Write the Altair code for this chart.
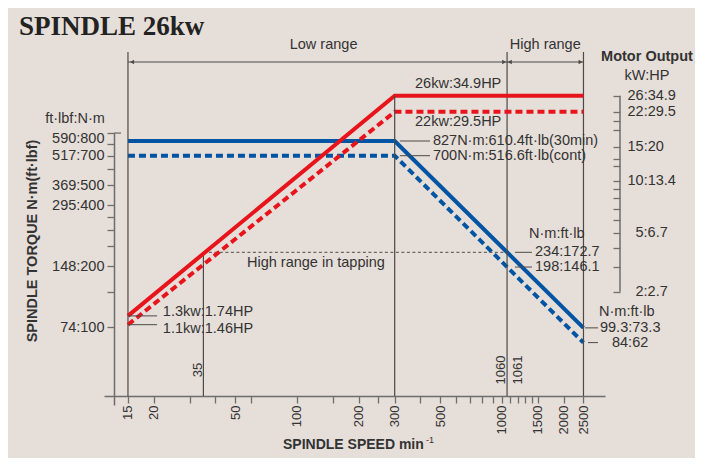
import altair as alt
import pandas as pd

# ---------------- data ----------------
speed = [15, 300, 2500]
torque_30min = [827, 827, 99.3]
torque_cont = [700, 700, 84]
power_30min = [1.3, 26, 26]
power_cont = [1.1, 22, 22]

speed_labeled = [15, 20, 50, 100, 200, 300, 500, 1000, 1500, 2000, 2500]
speed_minor = [30, 40, 60, 150, 250, 400, 600, 700, 800, 900, 1100, 1200, 1300, 1400]
torque_labeled = [800, 700, 500, 400, 200, 100]
torque_labels = ["590:800", "517:700", "369:500", "295:400", "148:200", "74:100"]
torque_minor = [905, 600, 350, 300, 250, 150]
power_labeled = [26, 22, 15, 10, 5, 2]
power_labels = ["26:34.9", "22:29.5", "15:20", "10:13.4", "5:6.7", "2:2.7"]
power_minor = [20, 18, 13, 12, 9, 8, 7, 6, 4, 3]

range_bounds = [15, 1060, 2500]
tap_speeds = [35, 1060]
tap_torque = 234
tap_cont_torque = 198

# ---------------- style ----------------
BLUE = "#0054a4"
RED = "#e8141c"
INK = "#333333"
LINE = "#4a4a4a"
AXC = "#6e6e6e"
BG = "#e6ded8"
FONT = "Liberation Sans"
FS = 14.5


def label_expr(vals, labels):
    s = "''"
    for v, l in reversed(list(zip(vals, labels))):
        s = f"datum.value == {v} ? '{l}' : ({s})"
    return s


xscale = alt.Scale(type="log", domain=[11.46, 3184], nice=False)
tscale = alt.Scale(type="log", domain=[41.4, 905.6], range=[385, 113], nice=False)
pscale = alt.Scale(type="pow", exponent=0.2, domain=[1, 30], range=[309.6, 61.65],
                   nice=False, zero=False)

xaxis = alt.Axis(values=speed_labeled + speed_minor,
                 labelExpr=label_expr(speed_labeled, [str(v) for v in speed_labeled]),
                 labelAngle=270, labelAlign="right", labelBaseline="middle",
                 tickSize=7, labelPadding=2, labelFontSize=13, labelFont=FONT,
                 labelColor=INK, domainColor=AXC, domainWidth=1.6, tickColor=AXC,
                 tickWidth=1.3, grid=False, title=None, labelOverlap=False,
                 labelFlush=False)

taxis = alt.Axis(orient="left", offset=-10, values=torque_labeled + torque_minor,
                 labelExpr=label_expr(torque_labeled, torque_labels),
                 tickSize=7, labelPadding=3, labelFontSize=FS, labelFont=FONT,
                 labelColor=INK, domainColor=AXC, domainWidth=1.5, tickColor=AXC,
                 tickWidth=1.3, grid=False, title=None, labelOverlap=False,
                 labelFlush=False,
                 labelOffset={"condition": {"test": "datum.value == 800", "value": -5}, "value": 0})

paxis = alt.Axis(orient="right", offset=8, values=power_labeled + power_minor,
                 labelExpr=label_expr(power_labeled, power_labels),
                 tickSize=7, labelFontSize=FS, labelFont=FONT, labelColor=INK,
                 domain=False, tickColor=AXC, tickWidth=1.3, grid=False, title=None,
                 labelOverlap=False, labelFlush=False,
                 labelPadding={"condition": {"test": "datum.value < 10", "value": 15}, "value": 7})

X = alt.X("S:Q", scale=xscale, axis=xaxis)
YT = alt.Y("T:Q", scale=tscale, axis=taxis)
YP = alt.Y("P:Q", scale=pscale, axis=paxis)


def txt(**kw):
    base = dict(font=FONT, fontSize=FS, color=INK)
    base.update(kw)
    return base


# ---------------- torque group ----------------
torque_layers = []

torque_layers.append(
    alt.Chart(pd.DataFrame({"S": speed, "T": torque_30min}))
    .mark_line(color=BLUE, strokeWidth=4, strokeCap="butt")
    .encode(x=X, y=YT))
torque_layers.append(
    alt.Chart(pd.DataFrame({"S": speed, "T": torque_cont}))
    .mark_line(color=BLUE, strokeWidth=4, strokeDash=[7, 4], strokeCap="butt")
    .encode(x=X, y=YT))

# vertical frame lines
torque_layers.append(
    alt.Chart(pd.DataFrame({"S": range_bounds}))
    .mark_rule(color=LINE, strokeWidth=1.2)
    .encode(x=X, y=alt.value(32), y2=alt.value(376)))

# tapping lines
torque_layers.append(
    alt.Chart(pd.DataFrame({"S": [tap_speeds[0]], "T": [tap_torque]}))
    .mark_rule(color=LINE, strokeWidth=1.2)
    .encode(x=X, y=YT, y2=alt.value(376)))
torque_layers.append(
    alt.Chart(pd.DataFrame({"S": [tap_speeds[0]], "S2": [tap_speeds[1]], "T": [tap_torque]}))
    .mark_rule(color=LINE, strokeWidth=1, strokeDash=[3, 2.5])
    .encode(x=X, x2="S2:Q", y=YT))

# leaders (torque)
leaders_t = pd.DataFrame({
    "S": [318, 318, 1158, 1158, 2544, 2631],
    "S2": [446, 446, 1402, 1402, 2943, 2943],
    "T": [827, 700, tap_torque, tap_cont_torque, 99.3, 84],
})
torque_layers.append(
    alt.Chart(leaders_t).mark_rule(color=LINE, strokeWidth=1)
    .encode(x=X, x2="S2:Q", y=YT))

# top cap of torque axis
torque_layers.append(
    alt.Chart(pd.DataFrame({"T": [905]})).mark_rule(color=AXC, strokeWidth=1.3)
    .encode(x=alt.value(10), x2=alt.value(17), y=YT))

# torque texts
texts_t = pd.DataFrame({
    "S": [461, 461, 1356, 1451, 1451, 2977, 3010, 3444, 57.1],
    "T": [827, 700, 287, tap_torque, tap_cont_torque, 119, 99.3, 84, 207.3],
    "label": ["827N·m:610.4ft·lb(30min)", "700N·m:516.6ft·lb(cont)", "N·m:ft·lb",
              "234:172.7", "198:146.1", "N·m:ft·lb", "99.3:73.3", "84:62",
              "High range in tapping"],
})
torque_layers.append(
    alt.Chart(texts_t).mark_text(**txt(align="left", baseline="middle"))
    .encode(x=X, y=YT, text="label:N"))

# rotated speed labels
torque_layers.append(
    alt.Chart(pd.DataFrame({"S": [34.3, 1035], "label": ["35", "1060"]}))
    .mark_text(**txt(fontSize=13, angle=270, align="center", baseline="alphabetic"))
    .encode(x=X, y=alt.value(350), text="label:N"))
torque_layers.append(
    alt.Chart(pd.DataFrame({"S": [1120], "label": ["1061"]}))
    .mark_text(**txt(fontSize=13, angle=270, align="center", baseline="top"))
    .encode(x=X, y=alt.value(350), text="label:N"))

# range arrows
torque_layers.append(
    alt.Chart(pd.DataFrame({"S": [15, 1060], "S2": [1060, 2500]}))
    .mark_rule(color=LINE, strokeWidth=1.1)
    .encode(x=X, x2="S2:Q", y=alt.value(42)))
torque_layers.append(
    alt.Chart(pd.DataFrame({"S": [15.7, 1093]}))
    .mark_point(shape="triangle-left", filled=True, size=22, color=LINE, opacity=1)
    .encode(x=X, y=alt.value(42)))
torque_layers.append(
    alt.Chart(pd.DataFrame({"S": [1026, 2421]}))
    .mark_point(shape="triangle-right", filled=True, size=22, color=LINE, opacity=1)
    .encode(x=X, y=alt.value(42)))
torque_layers.append(
    alt.Chart(pd.DataFrame({"S": [135, 1628], "label": ["Low range", "High range"]}))
    .mark_text(**txt(align="center", baseline="middle"))
    .encode(x=X, y=alt.value(25), text="label:N"))

# fixed texts
def fixed(label, x, y, **kw):
    return (alt.Chart(pd.DataFrame({"label": [label]}))
            .mark_text(**txt(**kw))
            .encode(x=alt.value(x), y=alt.value(y), text="label:N"))

torque_layers.append(fixed("SPINDLE 26kw", -85, 15, font="Liberation Serif", fontSize=27,
                           fontWeight="bold", color="#222222", align="left",
                           baseline="alphabetic"))
torque_layers.append(fixed("ft·lbf:N·m", -29, 99, align="center", baseline="middle"))
torque_layers.append(fixed("SPINDLE TORQUE N·m(ft·lbf)", -71, 221, angle=270,
                           fontWeight="bold", align="center", baseline="middle"))
torque_layers.append(fixed("SPINDLE SPEED min", 179, 429, fontSize=14, fontWeight="bold",
                           align="left", baseline="alphabetic"))
torque_layers.append(fixed("-1", 322, 423, fontSize=9, align="left", baseline="alphabetic"))
torque_layers.append(fixed("Motor Output", 543, 37, fontWeight="bold", align="center",
                           baseline="middle"))
torque_layers.append(fixed("kW:HP", 543, 56, align="center", baseline="middle"))

# ---------------- power group ----------------
power_layers = []
power_layers.append(
    alt.Chart(pd.DataFrame({"S": speed, "P": power_30min}))
    .mark_line(color=RED, strokeWidth=4, strokeCap="butt")
    .encode(x=X, y=YP))
power_layers.append(
    alt.Chart(pd.DataFrame({"S": speed, "P": power_cont}))
    .mark_line(color=RED, strokeWidth=4, strokeDash=[7, 4], strokeCap="butt")
    .encode(x=X, y=YP))

# 300 rpm line from knee down
power_layers.append(
    alt.Chart(pd.DataFrame({"S": [300], "P": [26]}))
    .mark_rule(color=LINE, strokeWidth=1.2)
    .encode(x=X, y=YP, y2=alt.value(376)))

# leaders (power)
power_layers.append(
    alt.Chart(pd.DataFrame({"S": [15, 15], "S2": [20.8, 20.8], "P": [1.3, 1.1]}))
    .mark_rule(color=LINE, strokeWidth=1)
    .encode(x=X, x2="S2:Q", y=YP))

# power axis line
power_layers.append(
    alt.Chart(pd.DataFrame({"P": [26], "P2": [2]}))
    .mark_rule(color=AXC, strokeWidth=1.5)
    .encode(x=alt.value(516), y=YP, y2="P2:Q"))

power_texts = [
    (377, 26, "26kw:34.9HP", -12),
    (377, 22, "22kw:29.5HP", 10),
    (22.2, 1.3, "1.3kw:1.74HP", -4),
    (22.2, 1.1, "1.1kw:1.46HP", 4),
]
for s, p, lab, dy in power_texts:
    power_layers.append(
        alt.Chart(pd.DataFrame({"S": [s], "P": [p], "label": [lab]}))
        .mark_text(**txt(align="left", baseline="middle", dy=dy))
        .encode(x=X, y=YP, text="label:N"))

chart = (
    alt.layer(alt.layer(*torque_layers), alt.layer(*power_layers))
    .resolve_scale(y="independent")
    .properties(width=501, height=376, background=BG,
                autosize=alt.AutoSizeParams(type="none"),
                padding={"left": 96, "top": 12, "right": 90, "bottom": 62})
    .configure_view(stroke=None)
)

chart.save("out.html", embed_options={"renderer": "svg", "actions": False})
